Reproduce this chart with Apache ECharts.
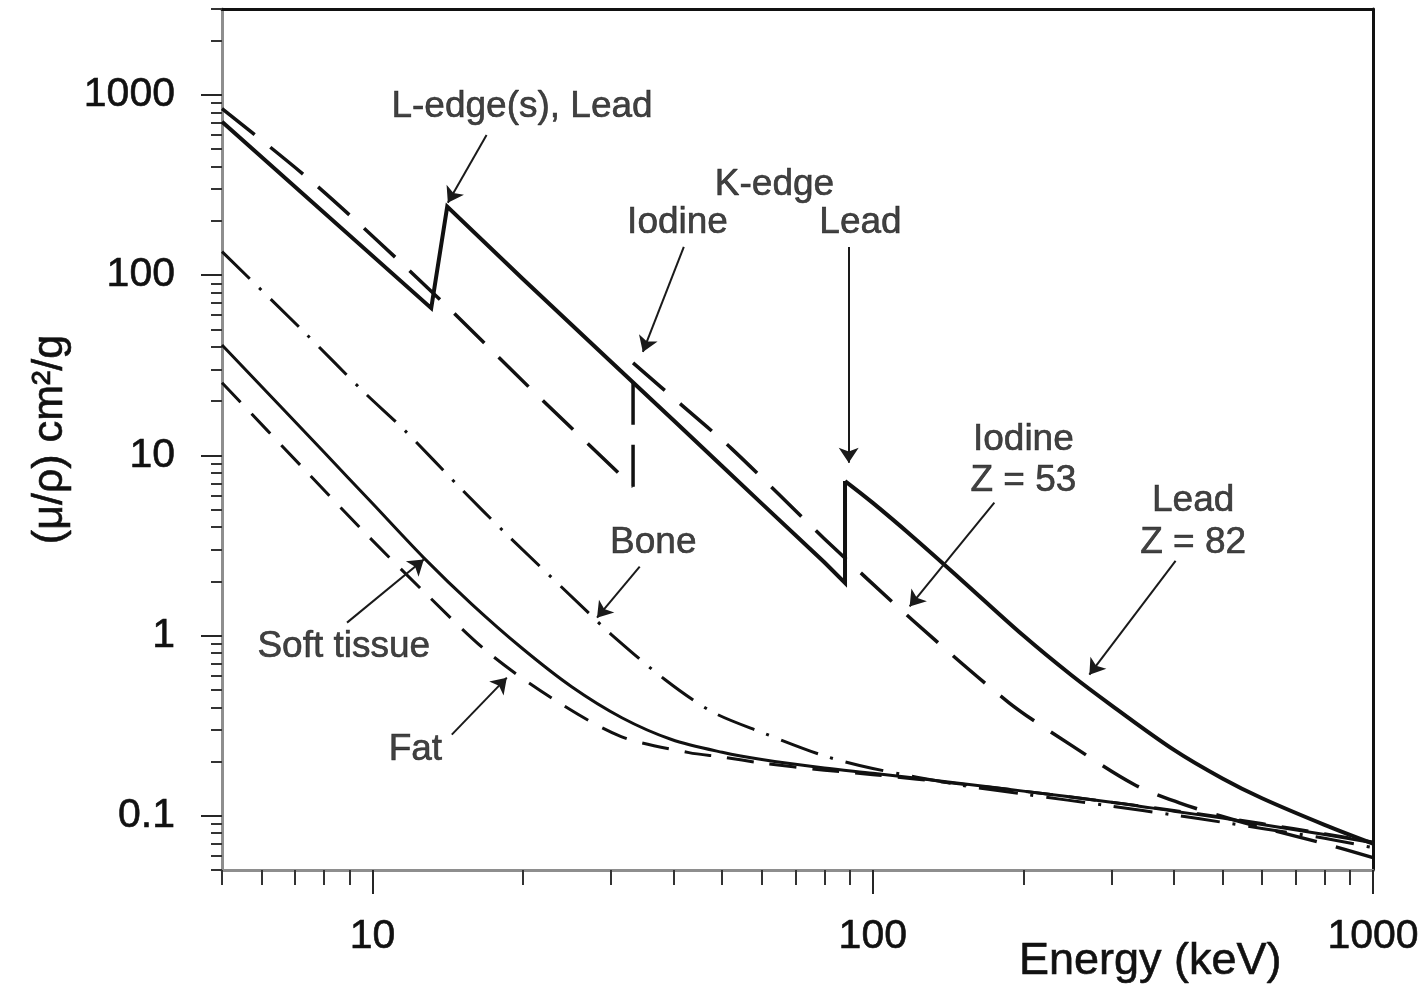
<!DOCTYPE html>
<html>
<head>
<meta charset="utf-8">
<script src="https://cdn.jsdelivr.net/npm/echarts@6/dist/echarts.min.js"></script>
<style>
  html, body { margin: 0; padding: 0; background: #fff; }
  #chart { width: 1427px; height: 989px; }
</style>
</head>
<body>
<div id="chart"></div>
<script>
// Mass attenuation coefficient (cm^2/g) versus photon energy (keV)
const leadCurve = [
  [5, 711], [13.1, 65.6], [14.1, 240], [20, 95], [30, 33], [40, 15.6], [50, 8.7],
  [60, 5.4], [80, 2.55], [88, 1.96], [88, 7.2], [100, 5.45], [120, 3.55], [150, 2.05],
  [200, 1.0], [250, 0.6], [300, 0.41], [400, 0.232], [500, 0.161], [600, 0.125],
  [800, 0.089], [1000, 0.070]
];
const iodineCurve = [
  [5, 840], [7.74, 313], [13.45, 76], [21.3, 21.7], [33.17, 6.7], [33.17, 32.6],
  [41.5, 19.0], [52.2, 10.9], [80, 3.45], [120, 1.22], [187, 0.425], [250, 0.245],
  [333, 0.149], [410, 0.118], [500, 0.099], [600, 0.086], [800, 0.070], [1000, 0.0586]
];
const softTissueCurve = [
  [5, 41], [8, 10.4], [10, 5.4], [12.66, 2.7], [15.8, 1.49], [19.9, 0.85], [25, 0.52],
  [31.5, 0.35], [39.6, 0.265], [50, 0.225], [60, 0.205], [80, 0.184], [100, 0.172],
  [150, 0.151], [200, 0.137], [300, 0.119], [400, 0.106], [500, 0.097], [600, 0.0895],
  [800, 0.0787], [1000, 0.0707]
];
const fatCurve = [
  [5, 25.3], [7.22, 8.65], [9.52, 3.87], [12.72, 1.73], [17.08, 0.80], [23.1, 0.44],
  [31.4, 0.275], [42.9, 0.224], [50, 0.212], [60, 0.196], [80, 0.179], [100, 0.169],
  [150, 0.150], [200, 0.137], [300, 0.119], [400, 0.107], [500, 0.098], [600, 0.0905],
  [800, 0.0795], [1000, 0.0715]
];
const boneCurve = [
  [5, 135], [7.29, 48.5], [9.65, 22.2], [11.55, 13.9], [15.1, 6.44], [18.4, 3.72],
  [27, 1.34], [29.7, 1.04], [38.4, 0.57], [47.7, 0.378], [60, 0.29], [80, 0.215],
  [100, 0.183], [150, 0.148], [200, 0.132], [300, 0.113], [400, 0.101], [500, 0.092],
  [600, 0.085], [800, 0.075], [1000, 0.0665]
];

// Axis ticks and labels
const xMajorTicks = [10, 100, 1000];
const xTickLabels = ['10', '100', '1000'];
const xMinorTicks = [5, 6, 7, 8, 9, 20, 30, 40, 50, 60, 70, 80, 90,
  200, 300, 400, 500, 600, 700, 800, 900];
const yMajorTicks = [0.1, 1, 10, 100, 1000];
const yTickLabels = ['0.1', '1', '10', '100', '1000'];
const yMinorTicks = [0.05, 0.06, 0.07, 0.08, 0.09, 0.2, 0.3, 0.4, 0.5, 0.6, 0.7, 0.8, 0.9,
  2, 3, 4, 5, 6, 7, 8, 9, 20, 30, 40, 50, 60, 70, 80, 90,
  200, 300, 400, 500, 600, 700, 800, 900, 2000, 3000];

// Annotation texts (placed in data coordinates)
const noteTexts = ['L-edge(s), Lead', 'K-edge', 'Iodine', 'Lead', 'Iodine', 'Z = 53',
  'Lead', 'Z = 82', 'Bone', 'Soft tissue', 'Fat'];
const notePositions = [[19.9, 863], [63.6, 317], [40.7, 195], [94.5, 195], [200, 12.2],
  [200, 7.23], [437, 5.6], [437, 3.28], [36.4, 3.28], [8.76, 0.862], [12.18, 0.231]];

// Pointer arrows: tail -> head
const arrowTails = [[16.9, 600], [41.9, 143.5], [89.5, 143.5], [175, 5.46], [403, 2.6],
  [34.2, 2.41], [8.89, 1.18], [14.4, 0.282]];
const arrowHeads = [[14.14, 252], [34.7, 37.5], [89.5, 9.1], [118.5, 1.45], [271, 0.607],
  [28.1, 1.257], [12.66, 2.64], [18.55, 0.584]];

const X_MIN = 5, X_MAX = 1000, Y_MIN = 0.05, Y_MAX = 3000;
const ink = '#111';
const font = 'Liberation Sans, Arial, Helvetica, sans-serif';
const textInk = { color: ink, fontFamily: font, textBorderColor: ink, textBorderWidth: 0.6 };

function pickLabel(values, labels) {
  return function (v) {
    for (let i = 0; i < values.length; i++) {
      if (Math.abs(Math.log10(v) - Math.log10(values[i])) < 1e-6) return labels[i];
    }
    return '';
  };
}

function logAxis(extra) {
  return Object.assign({
    type: 'log', logBase: 10, splitLine: { show: false }, minorSplitLine: { show: false },
    axisLine: { show: false }, axisTick: { show: false }, axisLabel: { show: false }
  }, extra);
}

// A curve is drawn in pieces so that absorption edges stay sharp while the
// smooth stretches between them are rendered as curves.
function curvePieces(name, data, width, type, pieces) {
  return pieces.map(([from, to, smooth]) => ({
    name, type: 'line', data: data.slice(from, to), xAxisIndex: 0, yAxisIndex: 0,
    showSymbol: false, symbol: 'none', smooth: smooth,
    lineStyle: { color: ink, width, type, cap: 'butt', join: 'miter' },
    z: 3, animation: false
  }));
}

const chart = echarts.init(document.getElementById('chart'), null, { renderer: 'canvas' });

chart.setOption({
  backgroundColor: '#fff',
  animation: false,
  title: {
    text: 'Energy (keV)', left: 1019, top: 939, padding: 0,
    textStyle: Object.assign({ fontSize: 45, fontWeight: 'normal' }, textInk)
  },
  grid: { left: 222, top: 9, width: 1151, height: 861, containLabel: false },
  xAxis: [
    logAxis({
      min: X_MIN, max: X_MAX, position: 'bottom',
      axisLine: { show: true, lineStyle: { color: '#8e8e8e', width: 3 } },
      axisTick: { show: true, inside: false, length: 24, customValues: xMajorTicks,
        lineStyle: { color: '#262626', width: 2 } },
      axisLabel: Object.assign({ show: true, customValues: xMajorTicks, margin: 46, fontSize: 41,
        formatter: pickLabel(xMajorTicks, xTickLabels) }, textInk)
    }),
    logAxis({
      min: X_MIN, max: X_MAX, position: 'bottom',
      axisTick: { show: true, inside: false, length: 15, customValues: xMinorTicks,
        lineStyle: { color: '#333', width: 2 } }
    }),
    logAxis({
      min: X_MIN, max: X_MAX, position: 'top',
      axisLine: { show: true, lineStyle: { color: '#111', width: 3 } }
    })
  ],
  yAxis: [
    logAxis({
      min: Y_MIN, max: Y_MAX, position: 'left',
      axisLine: { show: true, lineStyle: { color: '#8e8e8e', width: 3 } },
      axisTick: { show: true, inside: false, length: 21, customValues: yMajorTicks,
        lineStyle: { color: '#262626', width: 2 } },
      axisLabel: Object.assign({ show: true, customValues: yMajorTicks, margin: 47, fontSize: 41,
        formatter: pickLabel(yMajorTicks, yTickLabels) }, textInk),
      name: '(μ/ρ) cm²/g', nameLocation: 'middle', nameRotate: 90, nameGap: 150,
      nameTextStyle: Object.assign({ fontSize: 43 }, textInk)
    }),
    logAxis({
      min: Y_MIN, max: Y_MAX, position: 'left',
      axisTick: { show: true, inside: false, length: 11, customValues: yMinorTicks,
        lineStyle: { color: '#333', width: 2 } }
    }),
    logAxis({
      min: Y_MIN, max: Y_MAX, position: 'right',
      axisLine: { show: true, lineStyle: { color: '#111', width: 3 } }
    })
  ],
  series: [
    ...curvePieces('Lead', leadCurve, 4, 'solid', [[0, 11, false], [10, leadCurve.length, 0.35]]),
    ...curvePieces('Iodine', iodineCurve, 3.5, [42, 20],
      [[0, 5, 0.3], [4, 6, false], [5, iodineCurve.length, 0.3]]),
    ...curvePieces('Soft tissue', softTissueCurve, 3, 'solid', [[0, softTissueCurve.length, 0.3]]),
    ...curvePieces('Fat', fatCurve, 3, [27, 16], [[0, fatCurve.length, 0.3]]),
    ...curvePieces('Bone', boneCurve, 3, [39, 13, 3, 13], [[0, boneCurve.length, 0.3]]),
    {
      name: 'pointers', type: 'lines', coordinateSystem: 'cartesian2d',
      xAxisIndex: 0, yAxisIndex: 0, z: 5, animation: false,
      symbol: ['none', 'arrow'], symbolSize: 15,
      lineStyle: { color: '#1a1a1a', width: 2, opacity: 1, curveness: 0 },
      data: arrowTails.map((t, i) => ({ coords: [t, arrowHeads[i]] }))
    },
    {
      name: 'notes', type: 'scatter', xAxisIndex: 0, yAxisIndex: 0, z: 6,
      symbolSize: 1, itemStyle: { color: 'rgba(0,0,0,0)' }, silent: true, animation: false,
      label: Object.assign({ show: true, position: 'inside', formatter: '{b}', fontSize: 37 }, textInk),
      data: noteTexts.map((t, i) => ({ name: t, value: notePositions[i] }))
    }
  ]
});
</script>
</body>
</html>
